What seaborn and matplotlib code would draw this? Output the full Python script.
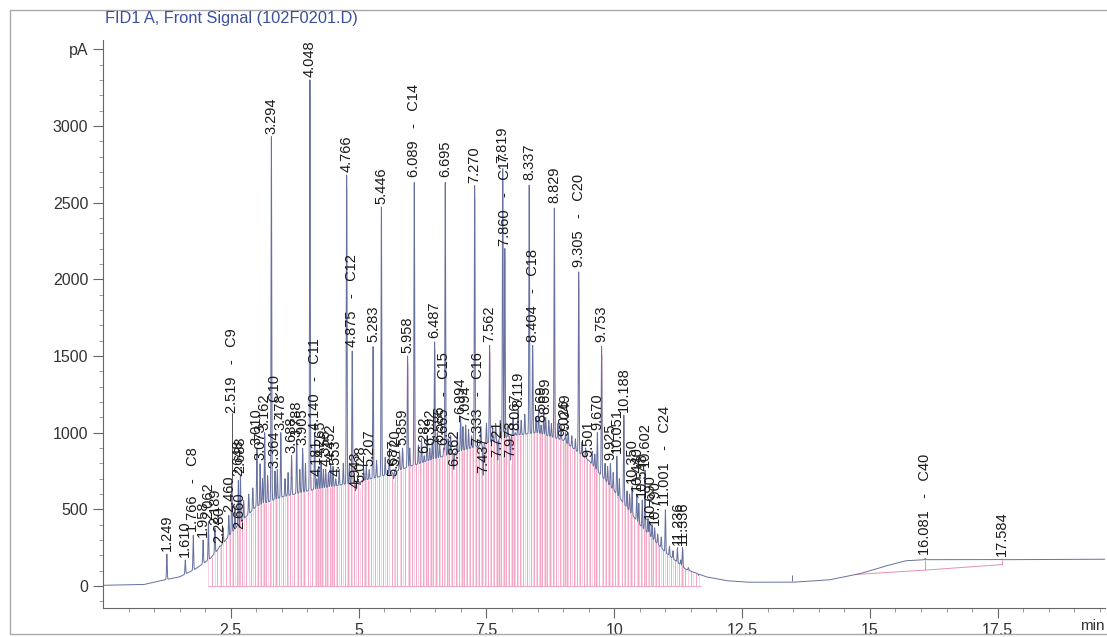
import numpy as np
import pandas as pd
import matplotlib
matplotlib.use("Agg")
import matplotlib.pyplot as plt
import seaborn as sns

# labelled peaks: retention time (min), apex height (pA), compound name
peak_rt = [1.249, 1.610, 1.766, 1.958, 2.062, 2.189, 2.280, 2.460, 2.519, 2.648,
           2.660, 2.688, 3.010, 3.073, 3.162, 3.294, 3.364, 3.478, 3.688, 3.788,
           3.905, 4.048, 4.140, 4.181, 4.265, 4.356, 4.452, 4.553, 4.766, 4.875,
           4.943, 5.028, 5.207, 5.283, 5.446, 5.687, 5.720, 5.859, 5.958, 6.089,
           6.282, 6.392, 6.487, 6.586, 6.665, 6.695, 6.862, 6.994, 7.094, 7.270,
           7.333, 7.437, 7.562, 7.721, 7.819, 7.860, 7.973, 8.067, 8.119, 8.337,
           8.404, 8.569, 8.659, 8.829, 9.026, 9.049, 9.305, 9.501, 9.670, 9.753,
           9.925, 10.051, 10.188, 10.350, 10.440, 10.548, 10.602, 10.690, 10.790,
           11.001, 11.236, 11.336, 16.081, 17.584]
peak_height = [210, 170, 330, 300, 420, 380, 260, 460, 690, 700,
               350, 720, 900, 800, 1000, 2930, 750, 1000, 850, 950,
               900, 3300, 1000, 700, 820, 760, 800, 700, 2680, 1540,
               620, 660, 760, 1570, 2470, 700, 760, 900, 1500, 2650,
               850, 900, 1600, 920, 900, 2650, 760, 1100, 1050, 2610,
               900, 720, 1570, 820, 2740, 2200, 820, 1000, 1150, 2630,
               1570, 1050, 1100, 2480, 960, 1000, 2060, 820, 1000, 1570,
               800, 850, 1115, 650, 600, 560, 756, 420, 380,
               500, 250, 250, 180, 175]
peak_name = ["", "", "C8", "", "", "", "", "", "C9", "",
             "", "", "", "", "", "", "C10", "", "", "",
             "", "", "C11", "", "", "", "", "", "", "C12",
             "", "", "", "", "", "", "", "", "", "C14",
             "", "", "", "", "C15", "", "", "", "", "",
             "C16", "", "", "", "", "C17", "", "", "", "",
             "C18", "", "", "", "", "", "C20", "", "", "",
             "", "", "", "", "", "", "", "", "",
             "C24", "", "", "C40", ""]

# smaller unlabelled peaks in the unresolved region
minor_rt = [2.35, 2.58, 2.75, 2.85, 2.93, 3.12, 3.22, 3.41, 3.56, 3.62,
            3.85, 3.96, 4.22, 4.31, 4.41, 4.50, 4.62, 4.70, 4.82, 5.10,
            5.15, 5.35, 5.52, 5.60, 5.80, 6.00, 6.17, 6.23, 6.34, 6.44,
            6.54, 6.75, 6.80, 6.93, 7.04, 7.15, 7.21, 7.39, 7.50, 7.62,
            7.68, 7.77, 7.92, 8.02, 8.18, 8.25, 8.47, 8.52, 8.62, 8.72,
            8.77, 8.90, 8.96, 9.10, 9.17, 9.24, 9.37, 9.44, 9.57, 9.62,
            9.82, 9.87, 9.98, 10.10, 10.25, 10.30, 10.48, 10.66, 10.74, 10.85,
            10.92, 11.08, 11.15, 11.30, 11.45, 11.55, 11.65]
minor_height = [380, 520, 560, 600, 640, 700, 720, 760, 700, 740,
                760, 800, 780, 760, 740, 780, 760, 800, 800, 760,
                780, 820, 840, 860, 880, 900, 920, 960, 980, 940,
                1000, 960, 980, 1000, 1040, 1020, 980, 1040, 1060, 1020,
                1060, 1080, 1040, 1100, 1080, 1120, 1100, 1140, 1120, 1080,
                1060, 1060, 1040, 1000, 980, 960, 940, 900, 880, 860,
                800, 780, 740, 700, 620, 600, 540, 440, 400, 340,
                320, 260, 230, 170, 120, 90, 70]

# hump (unresolved envelope) under the peaks
hump_rt = [0.0, 0.8, 1.2, 1.5, 1.8, 2.1, 2.4, 2.7, 3.0, 3.5,
           4.0, 4.5, 5.0, 5.5, 6.0, 6.5, 7.0, 7.5, 8.0, 8.5,
           9.0, 9.5, 10.0, 10.5, 11.0, 11.4, 11.8, 12.2, 12.6, 13.5,
           14.2, 14.8, 15.3, 15.7, 16.1, 17.6, 19.6]
hump_level = [5, 10, 40, 60, 110, 180, 300, 420, 520, 580,
              620, 650, 680, 720, 780, 830, 880, 930, 980, 1000,
              950, 820, 620, 400, 220, 110, 60, 35, 25, 25,
              40, 80, 130, 165, 172, 172, 175]

# integration baseline of the late hump
late_base_rt = [14.7, 15.5, 16.081, 17.584]
late_base_level = [75, 92, 104, 140]

x_ticks = [2.5, 5, 7.5, 10, 12.5, 15, 17.5]
x_tick_labels = ["2.5", "5", "7.5", "10", "12.5", "15", "17.5"]
y_ticks = [0, 500, 1000, 1500, 2000, 2500, 3000, 3500]
y_tick_labels = ["0", "500", "1000", "1500", "2000", "2500", "3000", "pA"]

# labels pushed up above crowded peaks (pA above the apex)
label_lift = {2.519: 420}

sns.set_style("ticks")
plt.rcParams["font.family"] = ["Liberation Sans", "DejaVu Sans"]

# build the trace: hump + narrow peaks
t = np.arange(0.0, 19.6, 0.002)
base = np.interp(t, hump_rt, hump_level)
signal = base.copy()
all_rt = np.array(peak_rt + minor_rt)
all_h = np.array(peak_height + minor_height)
for rt, h in zip(all_rt, all_h):
    amp = h - np.interp(rt, hump_rt, hump_level)
    signal += amp * np.exp(-0.5 * ((t - rt) / 0.007) ** 2)
df = pd.DataFrame({"time": t, "signal": signal})

fig = plt.figure(figsize=(11.07, 6.37), dpi=100)
ax = fig.add_axes([103 / 1107, 29 / 637, 1002 / 1107, 568 / 637])

# pink drop lines at the valleys between peaks
order = np.sort(all_rt[(all_rt > 2.0) & (all_rt < 12)])
valleys = (order[:-1] + order[1:]) / 2
valley_level = np.interp(valleys, t, signal)
ax.vlines(valleys, 0, valley_level, color="#f4a6c4", lw=0.7, zorder=1)
ax.vlines(order, 0, np.interp(order, t, signal) * 0.97, color="#f8c4d8", lw=0.5, zorder=1)
ax.plot([2.05, 11.7], [0, 0], color="#f4a6c4", lw=0.7, zorder=1)
ax.plot(late_base_rt, late_base_level, color="#e58fb3", lw=0.7, zorder=1)
ax.vlines([16.081, 17.584], [104, 140], [172, 172], color="#e58fb3", lw=0.7)

sns.lineplot(data=df, x="time", y="signal", ax=ax, color="#66719f", lw=0.7,
             estimator=None, sort=False, zorder=2)
ax.vlines([13.48], 30, 70, color="#66719f", lw=0.7)

for rt, h, name in zip(peak_rt, peak_height, peak_name):
    txt = f"{rt:.3f}" if name == "" else f"{rt:.3f}   -   {name}"
    lift = label_lift.get(rt, 0)
    if lift:
        ax.plot([rt, rt], [h, h + lift + 20], color="#555555", lw=0.7, zorder=3)
    ax.text(rt, h + lift + 20, txt, rotation=90, ha="center", va="bottom",
            fontsize=10.5, color="#1a1a1a", zorder=3)

ax.set_xlim(0, 19.6)
ax.set_ylim(-143, 3560)
ax.set_xticks(x_ticks)
ax.set_xticklabels(x_tick_labels)
ax.set_xticks(np.arange(0.5, 19.6, 0.5), minor=True)
ax.set_yticks(y_ticks)
ax.set_yticklabels(y_tick_labels)
ax.set_yticks(np.arange(-100, 3560, 100), minor=True)
ax.tick_params(axis="both", which="major", length=7, width=0.8, color="#666666",
               labelsize=11.5, labelcolor="#333333")
ax.tick_params(axis="both", which="minor", length=3, width=0.6, color="#888888")
ax.set_xlabel("")
ax.set_ylabel("")
sns.despine(ax=ax)
for s in ["left", "bottom"]:
    ax.spines[s].set_color("#666666")
    ax.spines[s].set_linewidth(0.8)
ax.text(1.0, -0.02, "min", transform=ax.transAxes, ha="right", va="top",
        fontsize=11, color="#333333")

fig.text(105 / 1107, 1 - 19 / 637, "FID1 A, Front Signal (102F0201.D)",
         color="#3b4f9c", fontsize=11.8, va="center", ha="left")
fig.patches.append(plt.Rectangle((10 / 1107, 3 / 637), 1100 / 1107, 624 / 637,
                                 transform=fig.transFigure, fill=False,
                                 edgecolor="#aaaaaa", lw=1.0))

fig.savefig("out.png", dpi=100)
